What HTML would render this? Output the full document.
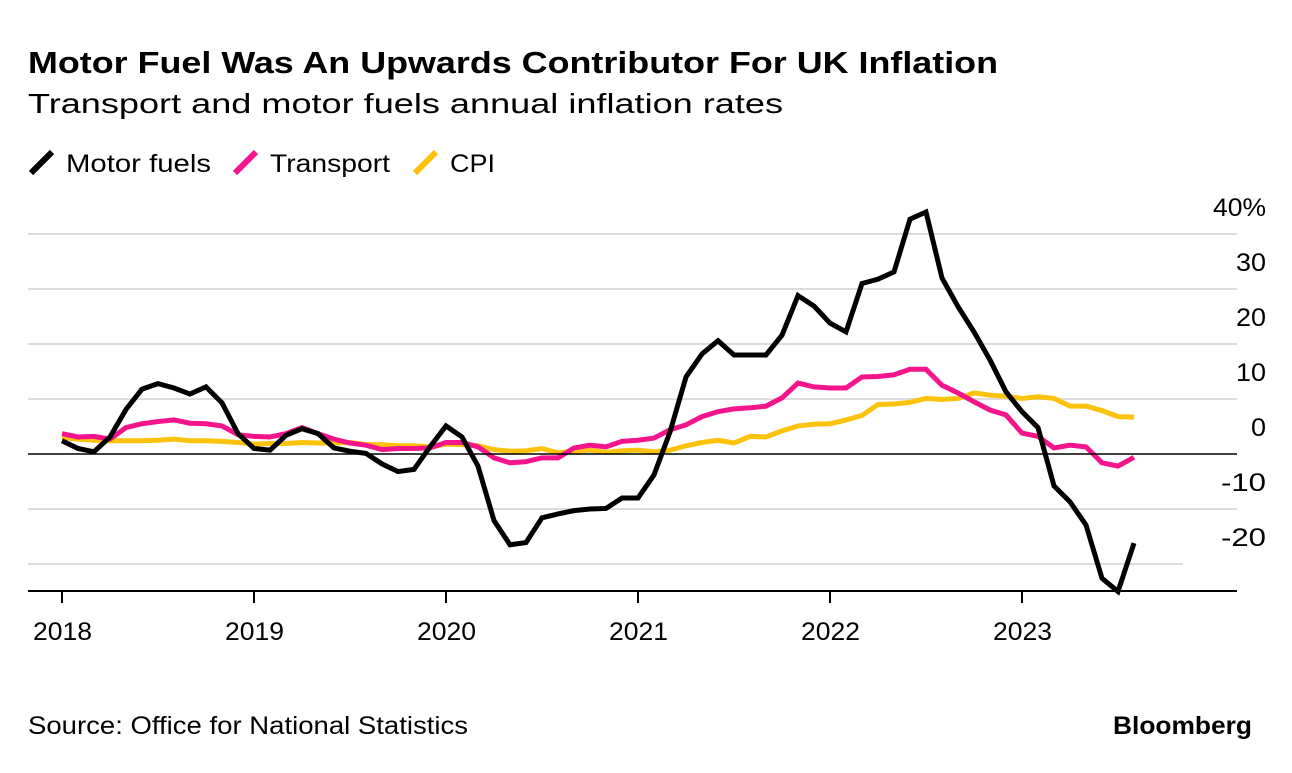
<!DOCTYPE html>
<html><head><meta charset="utf-8"><style>
body{margin:0;background:#fff;}
svg text{font-family:"Liberation Sans",sans-serif;}
</style></head><body>
<svg width="1292" height="768" xmlns="http://www.w3.org/2000/svg">
<text x="28" y="73" font-size="31" font-weight="bold" fill="#000" textLength="970" lengthAdjust="spacingAndGlyphs">Motor Fuel Was An Upwards Contributor For UK Inflation</text>
<text x="28" y="113" font-size="28" fill="#000" textLength="755" lengthAdjust="spacingAndGlyphs">Transport and motor fuels annual inflation rates</text>
<g>
<line x1="31" y1="173" x2="52" y2="152" stroke="#000" stroke-width="6"/>
<text x="66" y="172" font-size="25" textLength="145" lengthAdjust="spacingAndGlyphs">Motor fuels</text>
<line x1="235" y1="173" x2="256" y2="152" stroke="#f4148c" stroke-width="6"/>
<text x="270" y="172" font-size="25" textLength="120" lengthAdjust="spacingAndGlyphs">Transport</text>
<line x1="415" y1="173" x2="436" y2="152" stroke="#fcc20c" stroke-width="6"/>
<text x="450" y="172" font-size="25" textLength="45" lengthAdjust="spacingAndGlyphs">CPI</text>
</g>
<g id="grid"></g>
<g id="series"></g>
<g id="axes"></g>
<text x="28" y="734" font-size="25" textLength="440" lengthAdjust="spacingAndGlyphs">Source: Office for National Statistics</text>
<text x="1113" y="734" font-size="25" font-weight="bold" textLength="139" lengthAdjust="spacingAndGlyphs">Bloomberg</text>
</svg>
<script>
const years = ["2018","2019","2020","2021","2022","2023"];
const yTicks = [40,30,20,10,0,-10,-20];
const yTickLabels = ["40%","30","20","10","0","-10","-20"];
const motorFuels = [2.4,1.0,0.4,3.1,8.1,11.8,12.8,12.0,10.9,12.2,9.3,3.7,
1.0,0.7,3.4,4.6,3.7,1.1,0.5,0.1,-1.8,-3.2,-2.8,1.3,
5.1,3.1,-2.2,-12.1,-16.5,-16.1,-11.6,-10.9,-10.3,-10.0,-9.9,-8.0,
-8.0,-3.8,4.0,14.0,18.2,20.6,18.0,18.0,18.0,21.6,28.8,26.9,
23.8,22.2,31.0,31.8,33.1,42.7,44.0,32.0,26.8,22.2,17.1,11.3,
7.7,4.8,-5.8,-8.7,-12.9,-22.6,-25.0,-16.2];
const transport = [3.7,3.1,3.2,2.7,4.8,5.5,5.9,6.2,5.6,5.5,5.1,3.5,
3.2,3.1,3.7,4.8,3.7,2.7,2.0,1.6,0.8,1.0,1.0,1.1,
2.1,2.1,1.3,-0.7,-1.6,-1.4,-0.7,-0.7,1.1,1.6,1.3,2.3,
2.5,2.9,4.4,5.3,6.8,7.7,8.2,8.4,8.7,10.2,12.9,12.2,
12.0,12.0,14.0,14.1,14.4,15.4,15.4,12.5,11.1,9.5,8.0,7.1,
3.8,3.2,1.1,1.6,1.3,-1.6,-2.2,-0.6];
const cpi = [3.0,2.7,2.5,2.4,2.4,2.4,2.5,2.7,2.4,2.4,2.3,2.1,
1.8,1.9,1.9,2.1,2.0,2.0,2.1,1.7,1.7,1.5,1.5,1.3,
1.8,1.7,1.5,0.8,0.5,0.6,1.0,0.2,0.5,0.7,0.3,0.6,
0.7,0.4,0.7,1.5,2.1,2.5,2.0,3.2,3.1,4.2,5.1,5.4,
5.5,6.2,7.0,9.0,9.1,9.4,10.1,9.9,10.1,11.1,10.7,10.5,
10.1,10.4,10.1,8.7,8.7,7.9,6.8,6.7];
const NS="http://www.w3.org/2000/svg";
const x = i => 62 + i*16;
const y = v => 454 - v*5.5;
function mk(tag, parent){const e=document.createElementNS(NS,tag);parent.appendChild(e);return e;}
const grid=document.getElementById('grid'), series=document.getElementById('series'), axes=document.getElementById('axes');
yTicks.forEach((t,k)=>{
  if(t!==0){
    const l=mk('line',grid);
    
    
    l.setAttribute('x1',28);l.setAttribute('x2',t===-20?1183:1237);
    l.setAttribute('y1',y(t));l.setAttribute('y2',y(t));
    l.setAttribute('stroke','#dcdcdc');l.setAttribute('stroke-width','2');
  }
  const tx=mk('text',axes);
  
  
  tx.setAttribute('x',1266);tx.setAttribute('y',y(t)-18);
  tx.setAttribute('text-anchor','end');tx.setAttribute('font-size','25');
  const lab=yTickLabels[k];
  tx.setAttribute('textLength', lab.length*15 + (lab.indexOf('%')>=0?8:0));
  tx.setAttribute('lengthAdjust','spacingAndGlyphs');
  tx.textContent=lab;
});
function drawLine(vals,color,name){
  const p=mk('polyline',series);
  
  
  p.setAttribute('points',vals.map((v,i)=>x(i)+','+y(v)).join(' '));
  p.setAttribute('fill','none');p.setAttribute('stroke',color);
  p.setAttribute('stroke-width','5');p.setAttribute('stroke-linejoin','miter');
}
const z=mk('line',axes);


z.setAttribute('x1',28);z.setAttribute('x2',1237);z.setAttribute('y1',y(0));z.setAttribute('y2',y(0));
z.setAttribute('stroke','#000');z.setAttribute('stroke-width','1.5');
drawLine(cpi,'#fcc20c','series-cpi');
drawLine(transport,'#f4148c','series-transport');
drawLine(motorFuels,'#000','series-motor-fuels');
const ax=mk('line',axes);


ax.setAttribute('x1',28);ax.setAttribute('x2',1237);ax.setAttribute('y1',591);ax.setAttribute('y2',591);
ax.setAttribute('stroke','#000');ax.setAttribute('stroke-width','2');
years.forEach((yr,k)=>{
  const t=mk('line',axes);
  
  
  t.setAttribute('x1',x(k*12));t.setAttribute('x2',x(k*12));t.setAttribute('y1',591);t.setAttribute('y2',603);
  t.setAttribute('stroke','#000');t.setAttribute('stroke-width','2');
  const tx=mk('text',axes);
  
  
  tx.setAttribute('x',x(k*12)-29);tx.setAttribute('y',640);tx.setAttribute('font-size','25');
  tx.setAttribute('textLength','59');tx.setAttribute('lengthAdjust','spacingAndGlyphs');
  tx.textContent=yr;
});
</script>
</body></html>
